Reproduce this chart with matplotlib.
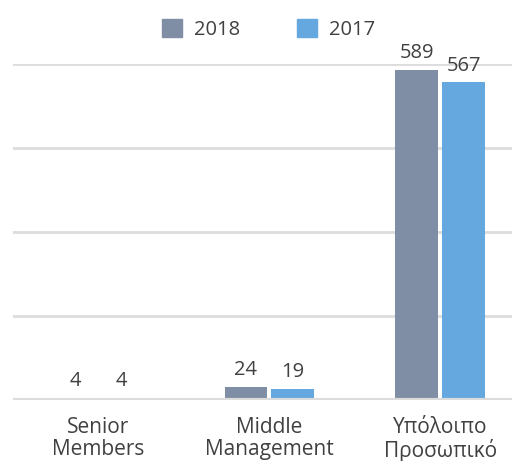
import matplotlib.pyplot as plt
import numpy as np
from matplotlib.patches import Patch

categories = ["Senior\nMembers", "Middle\nManagement", "Υπόλοιπο\nΠροσωπικό"]
v2018 = [4, 24, 589]
v2017 = [4, 19, 567]
c2018 = "#7f8ea5"
c2017 = "#65a8df"
txt = "#404040"

plt.rcParams["font.family"] = ["Open Sans", "DejaVu Sans"]

fig = plt.figure(figsize=(5.12, 4.61), dpi=100)
ax = fig.add_axes([13 / 512, 61 / 461, 1 - 13 / 512, 336 / 461])

x = np.arange(len(categories))
w = 0.25
off = 0.137
b1 = ax.bar(x - off, v2018, w, color=c2018, zorder=3)
b2 = ax.bar(x + off, v2017, w, color=c2017, zorder=3)
for bars in (b1, b2):
    ax.bar_label(bars, padding=5, fontsize=14.5, color=txt)

ax.set_ylim(0, 600)
ax.set_xlim(-0.5, 2.42)
ax.set_yticks([0, 150, 300, 450, 600])
ax.yaxis.grid(True, color="#dcdcdc", linewidth=2, zorder=0)
ax.axhline(0, color="#dcdcdc", linewidth=3, zorder=4)
ax.tick_params(axis="y", left=False, labelleft=False)
ax.tick_params(axis="x", bottom=False, pad=9, labelsize=15, labelcolor=txt)
ax.set_xticks(x)
ax.set_xticklabels(categories, linespacing=1.05)
for s in ax.spines.values():
    s.set_visible(False)

handles = [Patch(color=c2018, label="2018"), Patch(color=c2017, label="2017")]
fig.legend(handles=handles, loc="upper center", bbox_to_anchor=(0.525, 0.998), ncol=2,
           frameon=False, fontsize=14.5, labelcolor=txt, handlelength=1.0,
           handleheight=1.0, handletextpad=0.6, columnspacing=2.8)

fig.savefig("out.png", dpi=100)
